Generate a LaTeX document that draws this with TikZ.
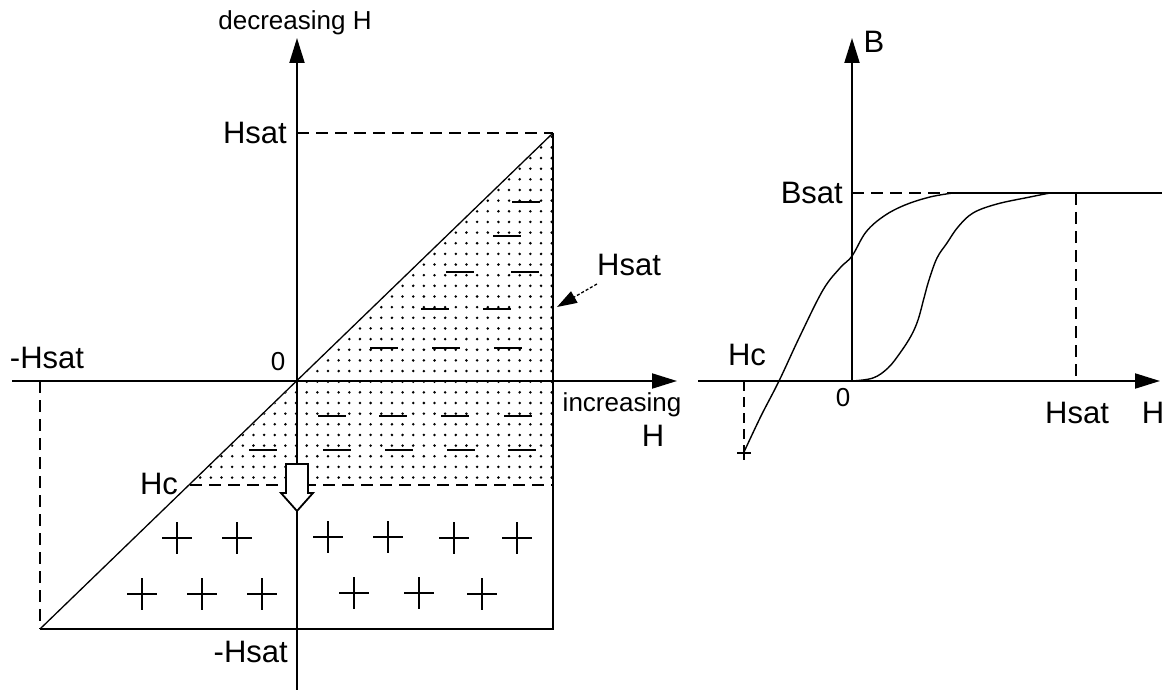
\documentclass[tikz,border=0pt]{standalone}
\usepackage{fontspec}
\setmainfont{Liberation Sans}
\usetikzlibrary{arrows.meta}
\begin{document}
\begin{tikzpicture}[x=1pt,y=-1pt,
  axisline/.style={line width=2pt,-{Triangle[length=25pt,width=15pt]}},
  frameline/.style={line width=2pt},
  dashline/.style={line width=2pt,dash pattern=on 12pt off 7pt},
  thinline/.style={line width=1.3pt},
  curveline/.style={line width=1.4pt,line join=round},
  lbl/.style={font=\fontsize{31}{31}\selectfont,inner sep=0pt},
  sml/.style={font=\fontsize{26}{26}\selectfont,inner sep=0pt},
  pmline/.style={line width=2.2pt}
]
\useasboundingbox (0,0) rectangle (1171,690);
% ---------- left diagram: key points ----------
\coordinate (O) at (297,381);
\coordinate (TL) at (40,629);
\coordinate (TR) at (553,133);
\coordinate (BR) at (553,629);
\coordinate (TopAx) at (297,133);
\coordinate (LeftAx) at (40,381);
\coordinate (HcL) at (190,485);
\coordinate (HcR) at (553,485);
% shaded (dotted) region
\begin{scope}
  \clip (191.5,484) -- (552,135) -- (552,484) -- cycle;
  \foreach \i in {-12,...,23}{
    \foreach \j in {-10,...,24}{
      \fill (306.7+\i*10.65, 381.7-\j*10.65) circle (1.4pt);
    }
  }
\end{scope}
% minus signs
\foreach \p in {(526,202),(507,236),(460,272),(525,272),(435,309),(497,309),
  (384,348),(446,348),(508,348),(332,416),(393,416),(455,416),(518,416),
  (263,450),(337,450),(399,450),(461,450),(522,450)}{
  \draw[pmline] \p ++(-14,0) -- ++(28,0);
}
% plus signs
\foreach \p in {(177,538),(237,538),(328,537),(388,537),(454,538),(517,538),
  (142,594),(202,594),(262,594),(354,593),(419,593),(482,594)}{
  \draw[pmline] \p ++(-15,0) -- ++(30,0);
  \draw[pmline] \p ++(0,-16) -- ++(0,32);
}
% axes
\coordinate (VBot) at (297,690);
\coordinate (VTop) at (297,38);
\coordinate (HLeft) at (12,381);
\coordinate (HRight) at (677,381);
\draw[axisline] (VBot) -- (VTop);
\draw[axisline] (HLeft) -- (HRight);
% square
\draw[frameline] (TR) -- (BR) -- (TL);
\draw[dashline] (TopAx) -- (TR);
\draw[dashline] (LeftAx) -- (TL);
\draw[thinline] (TL) -- (TR);
\draw[dashline] (HcL) -- (HcR);
% hollow arrow
\draw[line width=1.8pt,fill=white,line join=miter]
  (286,464) -- (308,464) -- (308,493) -- (313,493) -- (297,511)
  -- (281,493) -- (286,493) -- cycle;
% labels
\node[sml] (decH) at (295,23) {decreasing H};
\node[lbl,anchor=east] (hsatT) at (287,133) {Hsat};
\node[lbl] (mhsatL) at (47,358) {-Hsat};
\node[sml] (zeroL) at (278,362) {0};
\node[lbl] (hcL) at (159,484) {Hc};
\node[sml] (incr) at (622,405) {increasing};
\node[lbl] (incH) at (653,436) {H};
\node[lbl,anchor=east] (mhsatB) at (288,652) {-Hsat};
\node[lbl] (hsatC) at (629,265) {Hsat};
\coordinate (calloutTip) at (557,307);
\draw[line width=1.3pt,dash pattern=on 3pt off 2pt,-{Triangle[length=20pt,width=13pt]}]
  (hsatC.south west) ++(0,8) -- (calloutTip);
% ---------- right diagram ----------
\coordinate (O2) at (852,381);
\coordinate (BTop) at (852,38);
\coordinate (HL2) at (698,381);
\coordinate (HR2) at (1160,381);
\coordinate (Bs) at (852,193);
\coordinate (BsK) at (953,193);
\coordinate (BsR) at (1162,193);
\coordinate (HsTop) at (1076,193);
\coordinate (HsBot) at (1076,381);
\coordinate (HcTop) at (744,381);
\coordinate (HcBot) at (744,450);
\draw[axisline] (O2) -- (BTop);
\draw[axisline] (HL2) -- (HR2);
\draw[dashline] (Bs) -- (BsK);
\draw[frameline] (BsK) -- (BsR);
\draw[dashline] (HsTop) -- (HsBot);
\draw[line width=1.5pt,dash pattern=on 10pt off 6pt] (HcTop) -- (HcBot);
\draw[line width=1.5pt] (737,453) -- (751,453) (744,446) -- (744,460);
\draw[curveline] plot[smooth,tension=0.6] coordinates {(744,452) (761,416) (779,381)
  (800,336) (823,290) (840,268) (852,256) (866,232) (884,216) (905,205) (930,197) (953,193)};
\draw[curveline] plot[smooth,tension=0.6] coordinates {(852,381) (873,378) (888,368) (900,353)
  (911,336) (918,320) (924,298) (929,280) (937,258) (947,243) (958,227) (973,213) (997,204)
  (1030,197) (1050,193)};
\node[lbl] (Blab) at (874,42) {B};
\node[lbl,anchor=east] (bsat) at (843,193) {Bsat};
\node[lbl] (hcR) at (747,355) {Hc};
\node[sml] (zeroR) at (843,398) {0};
\node[lbl] (hsatR) at (1077,413) {Hsat};
\node[lbl] (hR) at (1153,413) {H};
\end{tikzpicture}
\end{document}
